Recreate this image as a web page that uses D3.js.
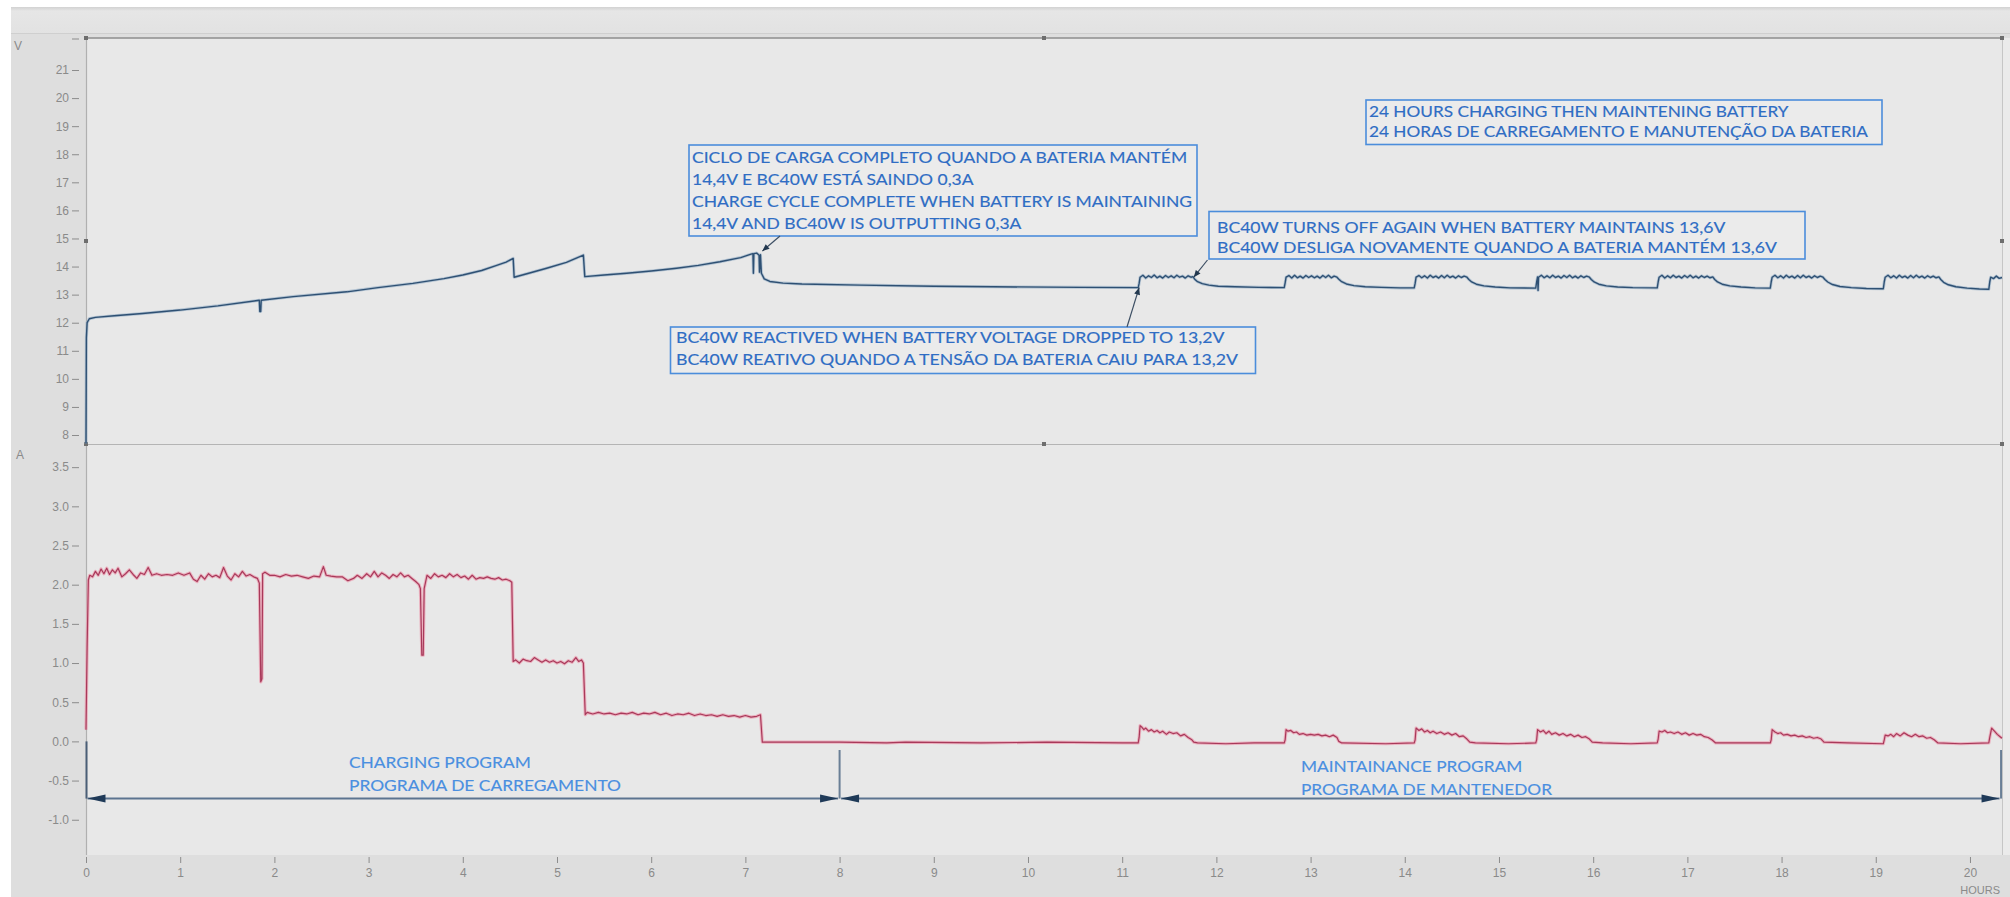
<!DOCTYPE html>
<html>
<head>
<meta charset="utf-8">
<script src="https://cdn.jsdelivr.net/npm/d3@7"></script>
<style>
  body { margin: 0; background: #ffffff; }
  svg { display: block; }
</style>
</head>
<body>
<svg id="chart" width="2010" height="897"></svg>
<script>
// ---- tick labels ----
const hourTicks = [0, 1, 2, 3, 4, 5, 6, 7, 8, 9, 10, 11, 12, 13, 14, 15, 16, 17, 18, 19, 20];
const voltTicks = [8, 9, 10, 11, 12, 13, 14, 15, 16, 17, 18, 19, 20, 21];
const ampTicks = [-1.0, -0.5, 0.0, 0.5, 1.0, 1.5, 2.0, 2.5, 3.0, 3.5];

// ---- battery voltage [hours, volts] ----
const voltageSeries = [
  [0.000, 7.70], [0.004, 11.46], [0.012, 12.00], [0.035, 12.14], [0.10, 12.19], [0.30, 12.25],
  [0.60, 12.33], [1.00, 12.45], [1.40, 12.60], [1.84, 12.80], [1.845, 12.40], [1.855, 12.40],
  [1.86, 12.80], [2.20, 12.93], [2.77, 13.10], [3.10, 13.25], [3.47, 13.40], [3.80, 13.57],
  [4.00, 13.70], [4.20, 13.86], [4.36, 14.04], [4.46, 14.16], [4.535, 14.29], [4.545, 13.62],
  [4.70, 13.76], [4.89, 13.94], [5.10, 14.15], [5.28, 14.41], [5.295, 13.64], [5.50, 13.70],
  [5.74, 13.76], [6.00, 13.84], [6.27, 13.94], [6.50, 14.04], [6.73, 14.17], [6.95, 14.32],
  [7.06, 14.44], [7.08, 14.46], [7.085, 13.76], [7.09, 14.46], [7.12, 14.48], [7.145, 14.40],
  [7.15, 13.80], [7.16, 14.42], [7.17, 13.76], [7.20, 13.56], [7.26, 13.47], [7.40, 13.41],
  [7.60, 13.38], [8.22, 13.34], [9.00, 13.30], [9.63, 13.28], [10.55, 13.26], [11.17, 13.25],
  // maintenance cycle 1
  [11.18, 13.40], [11.19, 13.62], [11.22, 13.69], [11.25, 13.59], [11.28, 13.67], [11.31, 13.61],
  [11.34, 13.70], [11.37, 13.60], [11.40, 13.66], [11.43, 13.59], [11.46, 13.68], [11.49, 13.61],
  [11.52, 13.67], [11.55, 13.60], [11.58, 13.69], [11.61, 13.62], [11.64, 13.66], [11.67, 13.59],
  [11.70, 13.67], [11.73, 13.62], [11.75, 13.64], [11.77, 13.55], [11.80, 13.46], [11.85, 13.39],
  [11.92, 13.34], [12.02, 13.30], [12.20, 13.28], [12.45, 13.26], [12.72, 13.25],
  // cycle 2
  [12.73, 13.42], [12.74, 13.62], [12.77, 13.68], [12.80, 13.59], [12.83, 13.69], [12.86, 13.60],
  [12.89, 13.66], [12.92, 13.59], [12.95, 13.68], [12.98, 13.61], [13.01, 13.67], [13.04, 13.60],
  [13.07, 13.66], [13.10, 13.59], [13.13, 13.68], [13.16, 13.61], [13.19, 13.69], [13.22, 13.60],
  [13.25, 13.66], [13.28, 13.62], [13.30, 13.55], [13.33, 13.46], [13.38, 13.38], [13.46, 13.32],
  [13.58, 13.28], [13.75, 13.26], [13.95, 13.24], [14.10, 13.24],
  // cycle 3
  [14.11, 13.40], [14.12, 13.62], [14.15, 13.68], [14.18, 13.60], [14.21, 13.67], [14.24, 13.59],
  [14.27, 13.69], [14.30, 13.61], [14.33, 13.66], [14.36, 13.59], [14.39, 13.68], [14.42, 13.60],
  [14.45, 13.69], [14.48, 13.61], [14.51, 13.66], [14.54, 13.59], [14.57, 13.67], [14.60, 13.61],
  [14.63, 13.66], [14.66, 13.62], [14.68, 13.54], [14.71, 13.45], [14.76, 13.37], [14.84, 13.31],
  [14.96, 13.27], [15.12, 13.24], [15.39, 13.23],
  // cycle 4
  [15.40, 13.45], [15.41, 13.63], [15.415, 13.15], [15.42, 13.62], [15.45, 13.69], [15.48, 13.60],
  [15.51, 13.67], [15.54, 13.60], [15.57, 13.69], [15.60, 13.61], [15.63, 13.66], [15.66, 13.59],
  [15.69, 13.68], [15.72, 13.61], [15.75, 13.69], [15.78, 13.60], [15.81, 13.66], [15.84, 13.59],
  [15.87, 13.67], [15.90, 13.61], [15.93, 13.66], [15.96, 13.62], [15.98, 13.54], [16.01, 13.45],
  [16.06, 13.37], [16.14, 13.31], [16.26, 13.27], [16.42, 13.25], [16.68, 13.24],
  // cycle 5
  [16.69, 13.45], [16.70, 13.62], [16.73, 13.69], [16.76, 13.59], [16.79, 13.67], [16.82, 13.60],
  [16.85, 13.69], [16.88, 13.61], [16.91, 13.66], [16.94, 13.59], [16.97, 13.68], [17.00, 13.61],
  [17.03, 13.69], [17.06, 13.60], [17.09, 13.66], [17.12, 13.59], [17.15, 13.67], [17.18, 13.61],
  [17.21, 13.66], [17.24, 13.60], [17.27, 13.63], [17.29, 13.54], [17.32, 13.45], [17.37, 13.37],
  [17.45, 13.31], [17.57, 13.27], [17.72, 13.24], [17.88, 13.23],
  // cycle 6
  [17.89, 13.45], [17.90, 13.62], [17.93, 13.69], [17.96, 13.60], [17.99, 13.67], [18.02, 13.59],
  [18.05, 13.69], [18.08, 13.61], [18.11, 13.66], [18.14, 13.59], [18.17, 13.68], [18.20, 13.60],
  [18.23, 13.69], [18.26, 13.61], [18.29, 13.66], [18.32, 13.59], [18.35, 13.67], [18.38, 13.61],
  [18.41, 13.66], [18.44, 13.62], [18.46, 13.54], [18.49, 13.45], [18.54, 13.36], [18.62, 13.29],
  [18.74, 13.25], [18.90, 13.22], [19.08, 13.21],
  // cycle 7
  [19.09, 13.45], [19.10, 13.62], [19.13, 13.69], [19.16, 13.60], [19.19, 13.67], [19.22, 13.59],
  [19.25, 13.69], [19.28, 13.61], [19.31, 13.66], [19.34, 13.59], [19.37, 13.68], [19.40, 13.60],
  [19.43, 13.69], [19.46, 13.61], [19.49, 13.66], [19.52, 13.59], [19.55, 13.67], [19.58, 13.61],
  [19.61, 13.66], [19.64, 13.60], [19.67, 13.63], [19.69, 13.54], [19.72, 13.44], [19.77, 13.35],
  [19.85, 13.28], [19.97, 13.23], [20.10, 13.20], [20.20, 13.19],
  // cycle 8 (cut off)
  [20.21, 13.45], [20.22, 13.62], [20.25, 13.57], [20.28, 13.66], [20.31, 13.58], [20.34, 13.61]
];

// ---- charger output current [hours, amps] ----
const currentSeries = [
  [0.000, 0.15], [0.012, 1.20], [0.025, 2.06], [0.04, 2.12], [0.07, 2.10], [0.10, 2.17],
  [0.13, 2.12], [0.16, 2.20], [0.19, 2.14], [0.22, 2.21], [0.25, 2.13], [0.28, 2.19],
  [0.31, 2.15], [0.34, 2.21], [0.38, 2.10], [0.42, 2.14], [0.46, 2.19], [0.50, 2.13],
  [0.54, 2.08], [0.58, 2.15], [0.62, 2.13], [0.66, 2.22], [0.70, 2.12], [0.75, 2.14],
  [0.80, 2.12], [0.86, 2.13], [0.92, 2.12], [0.98, 2.15], [1.04, 2.12], [1.10, 2.15],
  [1.14, 2.07], [1.18, 2.04], [1.22, 2.12], [1.26, 2.07], [1.30, 2.14], [1.34, 2.10],
  [1.38, 2.12], [1.42, 2.09], [1.46, 2.22], [1.50, 2.11], [1.54, 2.06], [1.58, 2.14],
  [1.62, 2.10], [1.66, 2.17], [1.70, 2.11], [1.74, 2.13], [1.78, 2.10], [1.82, 2.08],
  [1.84, 2.02], [1.855, 0.76], [1.868, 0.80], [1.875, 2.14], [1.90, 2.16], [1.95, 2.12],
  [2.00, 2.12], [2.06, 2.10], [2.12, 2.13], [2.18, 2.11], [2.24, 2.12], [2.30, 2.10],
  [2.36, 2.08], [2.42, 2.11], [2.48, 2.10], [2.52, 2.23], [2.55, 2.12], [2.60, 2.11],
  [2.66, 2.10], [2.72, 2.10], [2.78, 2.05], [2.84, 2.08], [2.88, 2.12], [2.93, 2.08],
  [2.98, 2.14], [3.02, 2.10], [3.06, 2.17], [3.10, 2.10], [3.14, 2.15], [3.18, 2.12],
  [3.22, 2.08], [3.26, 2.13], [3.30, 2.10], [3.34, 2.15], [3.38, 2.10], [3.42, 2.12],
  [3.46, 2.08], [3.50, 2.04], [3.535, 2.00], [3.55, 1.95], [3.565, 1.10], [3.58, 1.10],
  [3.59, 1.95], [3.62, 2.12], [3.66, 2.08], [3.70, 2.14], [3.74, 2.10], [3.78, 2.12],
  [3.82, 2.09], [3.86, 2.14], [3.90, 2.10], [3.94, 2.13], [3.98, 2.09], [4.02, 2.11],
  [4.06, 2.07], [4.10, 2.12], [4.14, 2.07], [4.18, 2.09], [4.22, 2.08], [4.26, 2.10],
  [4.30, 2.08], [4.34, 2.07], [4.38, 2.09], [4.42, 2.06], [4.46, 2.07], [4.50, 2.05],
  [4.52, 2.03], [4.535, 1.02], [4.56, 1.04], [4.60, 1.00], [4.64, 1.05], [4.68, 1.03],
  [4.72, 1.02], [4.76, 1.07], [4.80, 1.04], [4.84, 1.01], [4.88, 1.04], [4.92, 1.01],
  [4.96, 1.03], [5.00, 1.00], [5.04, 1.02], [5.08, 0.99], [5.12, 1.03], [5.16, 1.01],
  [5.20, 1.07], [5.23, 1.02], [5.26, 1.04], [5.28, 1.00], [5.30, 0.34], [5.32, 0.37],
  [5.38, 0.35], [5.44, 0.37], [5.50, 0.35], [5.56, 0.36], [5.62, 0.34], [5.68, 0.36],
  [5.74, 0.35], [5.80, 0.37], [5.86, 0.34], [5.92, 0.36], [5.98, 0.35], [6.04, 0.37],
  [6.10, 0.34], [6.16, 0.36], [6.22, 0.33], [6.28, 0.35], [6.34, 0.34], [6.40, 0.36],
  [6.46, 0.33], [6.52, 0.35], [6.58, 0.33], [6.64, 0.34], [6.70, 0.32], [6.76, 0.34],
  [6.82, 0.32], [6.88, 0.33], [6.94, 0.31], [7.00, 0.33], [7.06, 0.31], [7.12, 0.32],
  [7.16, 0.34], [7.18, -0.01], [7.30, -0.01], [8.00, -0.01], [8.50, -0.02], [8.70, -0.01],
  [9.50, -0.02], [10.20, -0.01], [11.00, -0.02], [11.17, -0.02],
  // maintenance pulses
  [11.18, 0.05], [11.19, 0.20], [11.21, 0.18], [11.23, 0.15], [11.25, 0.17], [11.28, 0.13],
  [11.31, 0.15], [11.34, 0.12], [11.37, 0.14], [11.40, 0.11], [11.43, 0.13], [11.47, 0.09],
  [11.50, 0.12], [11.54, 0.10], [11.58, 0.11], [11.62, 0.07], [11.66, 0.09], [11.70, 0.05],
  [11.74, 0.02], [11.76, -0.01], [11.80, -0.02], [12.10, -0.03], [12.40, -0.02], [12.72, -0.02],
  [12.73, 0.02], [12.74, 0.15], [12.76, 0.13], [12.79, 0.14], [12.82, 0.11], [12.85, 0.12],
  [12.88, 0.09], [12.92, 0.10], [12.96, 0.08], [13.00, 0.09], [13.04, 0.08], [13.08, 0.09],
  [13.12, 0.07], [13.16, 0.08], [13.20, 0.06], [13.24, 0.08], [13.28, 0.05], [13.30, 0.00],
  [13.33, -0.02], [13.80, -0.03], [14.10, -0.02],
  [14.11, 0.02], [14.12, 0.17], [14.15, 0.14], [14.18, 0.16], [14.21, 0.12], [14.24, 0.14],
  [14.27, 0.11], [14.30, 0.13], [14.34, 0.10], [14.38, 0.12], [14.42, 0.09], [14.46, 0.11],
  [14.50, 0.08], [14.54, 0.10], [14.58, 0.06], [14.62, 0.07], [14.66, 0.03], [14.69, -0.01],
  [14.75, -0.02], [15.10, -0.03], [15.39, -0.02],
  [15.40, 0.02], [15.41, 0.15], [15.44, 0.12], [15.47, 0.14], [15.50, 0.10], [15.53, 0.13],
  [15.56, 0.09], [15.60, 0.11], [15.64, 0.08], [15.68, 0.10], [15.72, 0.07], [15.76, 0.09],
  [15.80, 0.06], [15.84, 0.08], [15.88, 0.05], [15.92, 0.06], [15.96, 0.03], [15.99, -0.01],
  [16.10, -0.02], [16.40, -0.03], [16.68, -0.02],
  [16.69, 0.03], [16.70, 0.13], [16.73, 0.12], [16.76, 0.14], [16.79, 0.11], [16.82, 0.12],
  [16.86, 0.10], [16.90, 0.12], [16.94, 0.09], [16.98, 0.11], [17.02, 0.08], [17.06, 0.10],
  [17.10, 0.08], [17.14, 0.09], [17.18, 0.06], [17.22, 0.05], [17.26, 0.02], [17.30, -0.02],
  [17.60, -0.02], [17.88, -0.02],
  [17.89, 0.02], [17.90, 0.15], [17.93, 0.12], [17.96, 0.10], [17.99, 0.11], [18.02, 0.08],
  [18.06, 0.09], [18.10, 0.07], [18.14, 0.08], [18.18, 0.06], [18.22, 0.07], [18.26, 0.05],
  [18.30, 0.06], [18.34, 0.04], [18.38, 0.05], [18.42, 0.03], [18.45, -0.01], [18.70, -0.02],
  [19.08, -0.03],
  [19.09, 0.02], [19.10, 0.08], [19.13, 0.07], [19.16, 0.09], [19.19, 0.06], [19.22, 0.10],
  [19.26, 0.07], [19.30, 0.11], [19.34, 0.08], [19.38, 0.06], [19.42, 0.09], [19.46, 0.06],
  [19.50, 0.07], [19.54, 0.04], [19.58, 0.05], [19.62, 0.02], [19.66, -0.02], [19.90, -0.03],
  [20.20, -0.02],
  [20.21, 0.05], [20.23, 0.17], [20.26, 0.13], [20.29, 0.09], [20.32, 0.06], [20.34, 0.04]
];

// ---- annotation texts ----
const noteCycleComplete = [
  "CICLO DE CARGA COMPLETO QUANDO A BATERIA MANTÉM",
  "14,4V E BC40W ESTÁ SAINDO 0,3A",
  "CHARGE CYCLE COMPLETE WHEN BATTERY IS MAINTAINING",
  "14,4V AND BC40W IS OUTPUTTING 0,3A"
];
const noteReactivated = [
  "BC40W REACTIVED WHEN BATTERY VOLTAGE DROPPED TO 13,2V",
  "BC40W REATIVO QUANDO A TENSÃO DA BATERIA CAIU PARA 13,2V"
];
const noteTurnsOff = [
  "BC40W TURNS OFF AGAIN WHEN BATTERY MAINTAINS 13,6V",
  "BC40W DESLIGA NOVAMENTE QUANDO A BATERIA MANTÉM 13,6V"
];
const noteTitle = [
  "24 HOURS CHARGING THEN MAINTENING BATTERY",
  "24 HORAS DE CARREGAMENTO E MANUTENÇÃO DA BATERIA"
];
const labelCharging = ["CHARGING PROGRAM", "PROGRAMA DE CARREGAMENTO"];
const labelMaintain = ["MAINTAINANCE PROGRAM", "PROGRAMA DE MANTENEDOR"];

// ---- layout ----
const W = 2010, H = 897;
const plotL = 86, plotR = 2002;
const upTop = 38, upBot = 444;
const loTop = 446, loBot = 855;

const svg = d3.select("#chart");

const x = d3.scaleLinear().domain([0, 20.34]).range([plotL, plotR]);
const yV = d3.scaleLinear().domain([7.68, 22.14]).range([upBot, upTop]);
const yA = d3.scaleLinear().domain([-1.45, 3.77]).range([loBot, loTop]);

// window chrome
svg.append("rect").attr("width", W).attr("height", H).attr("fill", "#ffffff");
const grad = svg.append("defs").append("linearGradient")
  .attr("id", "bar").attr("x1", 0).attr("y1", 0).attr("x2", 0).attr("y2", 1);
grad.append("stop").attr("offset", "0%").attr("stop-color", "#d2d2d2");
grad.append("stop").attr("offset", "15%").attr("stop-color", "#e6e6e6");
grad.append("stop").attr("offset", "100%").attr("stop-color", "#e2e2e2");
svg.append("rect").attr("x", 11).attr("y", 7).attr("width", W - 11).attr("height", 27).attr("fill", "url(#bar)");
svg.append("rect").attr("x", 11).attr("y", 34).attr("width", W - 11).attr("height", H - 34).attr("fill", "#dedede");
svg.append("line").attr("x1", 11).attr("x2", W).attr("y1", 33.5).attr("y2", 33.5).attr("stroke", "#cfcfcf");

// plot areas
svg.append("rect").attr("x", plotL).attr("y", upTop).attr("width", plotR - plotL).attr("height", upBot - upTop).attr("fill", "#e8e8e8");
svg.append("rect").attr("x", plotL).attr("y", loTop - 1).attr("width", plotR - plotL).attr("height", loBot - loTop + 1).attr("fill", "#e8e8e8");
svg.append("rect").attr("x", plotR).attr("y", upTop).attr("width", W - plotR).attr("height", loBot - upTop).attr("fill", "#ebebeb");

// frame lines
svg.append("line").attr("x1", plotL).attr("x2", plotR).attr("y1", upTop).attr("y2", upTop).attr("stroke", "#8e8e8e").attr("stroke-width", 1.5);
svg.append("line").attr("x1", plotL).attr("x2", plotR).attr("y1", upBot + 0.5).attr("y2", upBot + 0.5).attr("stroke", "#b4b4b4").attr("stroke-width", 1.2);
svg.append("line").attr("x1", plotL + 0.5).attr("x2", plotL + 0.5).attr("y1", upTop).attr("y2", loBot).attr("stroke", "#b0b0b0").attr("stroke-width", 1.2);
svg.append("line").attr("x1", plotR + 0.5).attr("x2", plotR + 0.5).attr("y1", upTop).attr("y2", loBot).attr("stroke", "#c6c6c6").attr("stroke-width", 1);

// resize handles on the voltage panel
const handles = [[plotL, upTop], [(plotL + plotR) / 2, upTop], [plotR, upTop],
                 [plotL, (upTop + upBot) / 2], [plotR, (upTop + upBot) / 2],
                 [plotL, upBot], [(plotL + plotR) / 2, upBot], [plotR, upBot]];
svg.selectAll("rect.handle").data(handles).join("rect")
  .attr("class", "handle")
  .attr("x", d => d[0] - 2).attr("y", d => d[1] - 2)
  .attr("width", 4).attr("height", 4).attr("fill", "#6e6e6e");

// axes
const tickFont = "'Liberation Sans', Arial, sans-serif";
function styleAxis(g) {
  g.select(".domain").remove();
  g.selectAll(".tick line").attr("stroke", "#8c8c8c");
  g.selectAll(".tick text").attr("fill", "#8a8a8a").style("font-family", tickFont).style("font-size", "12px");
}
svg.append("g").attr("transform", `translate(79,0)`)
  .call(d3.axisLeft(yV).tickValues(voltTicks).tickSize(7).tickPadding(3).tickFormat(d3.format("d")))
  .call(styleAxis);
svg.append("line").attr("x1", 72).attr("x2", 79).attr("y1", upTop + 1).attr("y2", upTop + 1).attr("stroke", "#8c8c8c");
svg.append("g").attr("transform", `translate(79,0)`)
  .call(d3.axisLeft(yA).tickValues(ampTicks).tickSize(7).tickPadding(3).tickFormat(d => d.toFixed(1)))
  .call(styleAxis);
svg.append("g").attr("transform", `translate(0,${loBot + 2})`)
  .call(d3.axisBottom(x).tickValues(hourTicks).tickSize(6).tickPadding(5).tickFormat(d3.format("d")))
  .call(styleAxis);

svg.append("text").attr("x", 14).attr("y", 50).text("V")
  .attr("fill", "#8a8a8a").style("font-family", tickFont).style("font-size", "12px");
svg.append("text").attr("x", 16).attr("y", 459).text("A")
  .attr("fill", "#8a8a8a").style("font-family", tickFont).style("font-size", "12px");
svg.append("text").attr("x", 2000).attr("y", 894).attr("text-anchor", "end").text("HOURS")
  .attr("fill", "#8a8a8a").style("font-family", tickFont).style("font-size", "11px");

// data lines
const lineV = d3.line().x(d => x(d[0])).y(d => yV(d[1]));
const lineA = d3.line().x(d => x(d[0])).y(d => yA(d[1]));

svg.append("path").datum(voltageSeries).attr("d", lineV)
  .attr("fill", "none").attr("stroke", "#9db3c9").attr("stroke-width", 3).attr("stroke-opacity", 0.7)
  .attr("stroke-linejoin", "round");
svg.append("path").datum(voltageSeries).attr("d", lineV)
  .attr("fill", "none").attr("stroke", "#2e5073").attr("stroke-width", 1.4).attr("stroke-linejoin", "round");

svg.append("path").datum(currentSeries).attr("d", lineA)
  .attr("fill", "none").attr("stroke", "#eba2b4").attr("stroke-width", 3.2).attr("stroke-opacity", 0.8)
  .attr("stroke-linejoin", "round");
svg.append("path").datum(currentSeries).attr("d", lineA)
  .attr("fill", "none").attr("stroke", "#a8395a").attr("stroke-width", 1.2).attr("stroke-linejoin", "round");

// program span arrows
const spanY = yA(-0.73);
const arrowColor = "#5c7490", headColor = "#1f3a58";
const spans = [[0, 8], [8, 20.33]];
const g = svg.append("g");
[0, 8, 20.33].forEach((h, i) => {
  g.append("line").attr("x1", x(h) + (i === 0 ? 0.5 : 0)).attr("x2", x(h) + (i === 0 ? 0.5 : 0))
    .attr("y1", i === 0 ? yA(0) : yA(-0.11)).attr("y2", spanY)
    .attr("stroke", i === 0 ? "#4a5e76" : "#6a7f96").attr("stroke-width", 2);
});
spans.forEach(([a, b]) => {
  const xa = x(a) + 1.5, xb = x(b) - 1.5;
  g.append("line").attr("x1", xa).attr("x2", xb).attr("y1", spanY).attr("y2", spanY)
    .attr("stroke", arrowColor).attr("stroke-width", 2);
  g.append("path").attr("d", `M${xa},${spanY} L${xa + 18},${spanY - 4} L${xa + 18},${spanY + 4} Z`).attr("fill", headColor);
  g.append("path").attr("d", `M${xb},${spanY} L${xb - 18},${spanY - 4} L${xb - 18},${spanY + 4} Z`).attr("fill", headColor);
});

// boxed notes
const noteFont = "Lato, 'Open Sans', sans-serif";
const noteBlue = "#2f6dc4";
const boxes = [
  { lines: noteCycleComplete, box: [689, 145, 508, 91], tx: 692, base: 162.5, step: 22, width: 500 },
  { lines: noteReactivated, box: [670.5, 327, 585, 46.5], tx: 676, base: 343, step: 21.5, width: 562 },
  { lines: noteTurnsOff, box: [1209, 211.5, 596, 47.5], tx: 1217, base: 232.5, step: 20.5, width: 560 },
  { lines: noteTitle, box: [1366, 100, 516, 44.5], tx: 1369, base: 116.5, step: 20, width: 499 }
];

function fitLines(group, lines, tx, base, step, width, size, color) {
  const texts = group.selectAll(null).data(lines).join("text")
    .attr("x", tx).attr("y", (d, i) => base + i * step)
    .attr("fill", color).attr("stroke", color).attr("stroke-width", 0.15)
    .style("font-family", noteFont).style("font-size", size + "px")
    .text(d => d);
  const lens = texts.nodes().map(n => n.getComputedTextLength());
  const ratio = width / d3.max(lens);
  texts.attr("textLength", (d, i) => lens[i] * ratio).attr("lengthAdjust", "spacingAndGlyphs");
}

boxes.forEach(b => {
  const grp = svg.append("g");
  grp.append("rect").attr("x", b.box[0]).attr("y", b.box[1]).attr("width", b.box[2]).attr("height", b.box[3])
    .attr("fill", "#ebebeb").attr("stroke", "#4b8ddb").attr("stroke-width", 1.6);
  fitLines(grp, b.lines, b.tx, b.base, b.step, b.width, 15, noteBlue);
});

// leaders from notes to the voltage trace
const leaders = [
  { from: [780, 236], to: [7.18, 14.55] },
  { from: [1127, 327], to: [11.18, 13.25] },
  { from: [1207.5, 260], to: [11.76, 13.62] }
];
leaders.forEach(l => {
  const x1 = l.from[0], y1 = l.from[1], x2 = x(l.to[0]), y2 = yV(l.to[1]);
  const ang = Math.atan2(y2 - y1, x2 - x1);
  svg.append("line").attr("x1", x1).attr("y1", y1).attr("x2", x2).attr("y2", y2)
    .attr("stroke", "#3d4f64").attr("stroke-width", 1.2);
  const L = 7, w = 3;
  const bx = x2 - L * Math.cos(ang), by = y2 - L * Math.sin(ang);
  svg.append("path")
    .attr("d", `M${x2},${y2} L${bx + w * Math.sin(ang)},${by - w * Math.cos(ang)} L${bx - w * Math.sin(ang)},${by + w * Math.cos(ang)} Z`)
    .attr("fill", "#22384f");
});

// program labels
const lblBlue = "#4a8fe0";
fitLines(svg.append("g"), labelCharging, 349, 767.5, 23, 272, 16, lblBlue);
fitLines(svg.append("g"), labelMaintain, 1301, 771.5, 23, 251, 16, lblBlue);
</script>
</body>
</html>
